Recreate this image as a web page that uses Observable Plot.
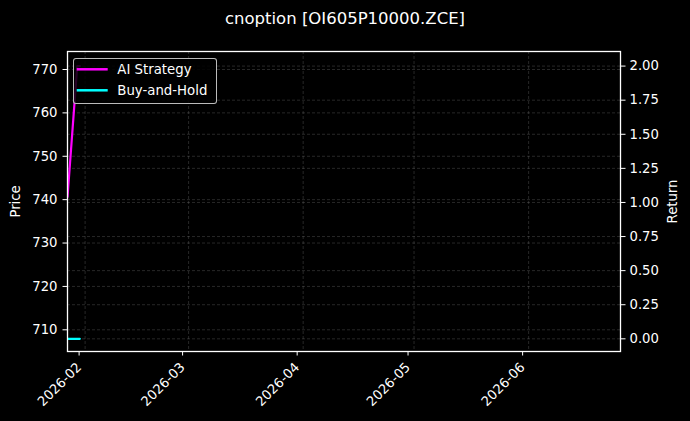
<!DOCTYPE html>
<html>
<head>
<meta charset="utf-8">
<script src="https://cdn.jsdelivr.net/npm/d3@7"></script>
<script src="https://cdn.jsdelivr.net/npm/@observablehq/plot@0.6"></script>
<style>
  html, body { margin: 0; padding: 0; background: #000; }
  #wrap { position: relative; width: 690px; height: 421px; background: #000; overflow: hidden; }
  #title { height: 38px; box-sizing: border-box; padding-top: 8.7px; text-align: center; color: #fff;
           font-family: "DejaVu Sans", sans-serif; font-size: 16.5px; line-height: normal; white-space: nowrap; }
  #legend { position: absolute; left: 73px; top: 58px; width: 144px; height: 46px; box-sizing: border-box;
            border: 1px solid rgba(220,220,220,0.85); border-radius: 3px; background: rgba(0,0,0,0.85); }
  #legend svg { position: absolute; left: -1px; top: -1px; }
</style>
</head>
<body>
<div id="wrap">
  <div id="title">cnoption [OI605P10000.ZCE]</div>
  <div id="chart"></div>
  <div id="legend"></div>
</div>
<script>
// ---- data ----
const dates = ["2026-01-27T05:45Z", "2026-01-29T21:00Z", "2026-01-30T13:30Z"];
const aiStrategy = [1.04, 2.0, 2.0];
const buyAndHold = [0, 0, 0];
const monthTicks = ["2026-02-01", "2026-03-01", "2026-04-01", "2026-05-01", "2026-06-01"];
const priceTicks = [710, 720, 730, 740, 750, 760, 770];
const returnTicks = [0, 0.25, 0.5, 0.75, 1.0, 1.25, 1.5, 1.75, 2.0];
const seriesNames = ["AI Strategy", "Buy-and-Hold"];
const seriesColors = ["#ff00ff", "#00ffff"];

// ---- scales ----
const returnDomain = [-0.093, 2.107];
const priceDomain = [705.0, 774.15];
const toR = p => returnDomain[0] + (p - priceDomain[0]) * (returnDomain[1] - returnDomain[0]) / (priceDomain[1] - priceDomain[0]);
const fromR = r => priceDomain[0] + (r - returnDomain[0]) * (priceDomain[1] - priceDomain[0]) / (returnDomain[1] - returnDomain[0]);

const parse = s => new Date(s);
const aiData = dates.map((d, i) => ({date: parse(d), value: aiStrategy[i]}));
const bhData = dates.map((d, i) => ({date: parse(d), value: buyAndHold[i]}));
const mTicks = monthTicks.map(s => new Date(s + "T00:00Z"));

const gridStyle = {stroke: "#9a9a9a", strokeOpacity: 0.32, strokeDasharray: "3,2", strokeWidth: 0.8};

const chart = Plot.plot({
  width: 690,
  height: 383,
  marginTop: 13,
  marginBottom: 70,
  marginLeft: 67,
  marginRight: 70,
  style: {background: "black", color: "white", fontFamily: "DejaVu Sans, sans-serif", fontSize: "13.2px"},
  x: {type: "utc", domain: [new Date("2026-01-27T05:45Z"), new Date("2026-06-25T20:40Z")]},
  y: {domain: returnDomain},
  marks: [
    Plot.gridX(mTicks, gridStyle),
    Plot.gridY(returnTicks, gridStyle),
    Plot.gridY(priceTicks.map(toR), gridStyle),
    Plot.line(bhData, {x: "date", y: "value", stroke: seriesColors[1], strokeWidth: 2.2, clip: true}),
    Plot.line(aiData, {x: "date", y: "value", stroke: seriesColors[0], strokeWidth: 2.2, clip: true}),
    Plot.frame({stroke: "white", strokeWidth: 1.3}),
    Plot.axisX(mTicks, {
      tickFormat: d3.utcFormat("%Y-%m"), tickRotate: -45, tickSize: 4.5, tickPadding: 9, dx: -6,
      label: null, stroke: "white", strokeWidth: 1, fill: "white"
    }),
    Plot.axisY(priceTicks.map(toR), {
      anchor: "left", tickFormat: r => String(Math.round(fromR(r))),
      tickSize: 4.5, tickPadding: 5.5, label: "Price", labelAnchor: "center", labelArrow: "none",
      labelOffset: 57, stroke: "white", fill: "white"
    }),
    Plot.axisY(returnTicks, {
      anchor: "right", tickFormat: d3.format(".2f"),
      tickSize: 4.5, tickPadding: 4.5, label: "Return", labelAnchor: "center", labelArrow: "none",
      labelOffset: 56, stroke: "white", fill: "white"
    })
  ]
});
document.getElementById("chart").appendChild(chart);

// ---- legend ----
const ns = "http://www.w3.org/2000/svg";
const lg = document.createElementNS(ns, "svg");
lg.setAttribute("width", 144);
lg.setAttribute("height", 46);
seriesNames.forEach((name, i) => {
  const y = 11.3 + i * 21;
  const ln = document.createElementNS(ns, "line");
  ln.setAttribute("x1", 3.7); ln.setAttribute("x2", 34.7);
  ln.setAttribute("y1", y); ln.setAttribute("y2", y);
  ln.setAttribute("stroke", seriesColors[i]); ln.setAttribute("stroke-width", 2.5);
  lg.appendChild(ln);
  const tx = document.createElementNS(ns, "text");
  tx.setAttribute("x", 44.3); tx.setAttribute("y", y + 5);
  tx.setAttribute("fill", "white");
  tx.setAttribute("font-family", "DejaVu Sans, sans-serif");
  tx.setAttribute("font-size", "13.3px");
  tx.textContent = name;
  lg.appendChild(tx);
});
document.getElementById("legend").appendChild(lg);
</script>
</body>
</html>
